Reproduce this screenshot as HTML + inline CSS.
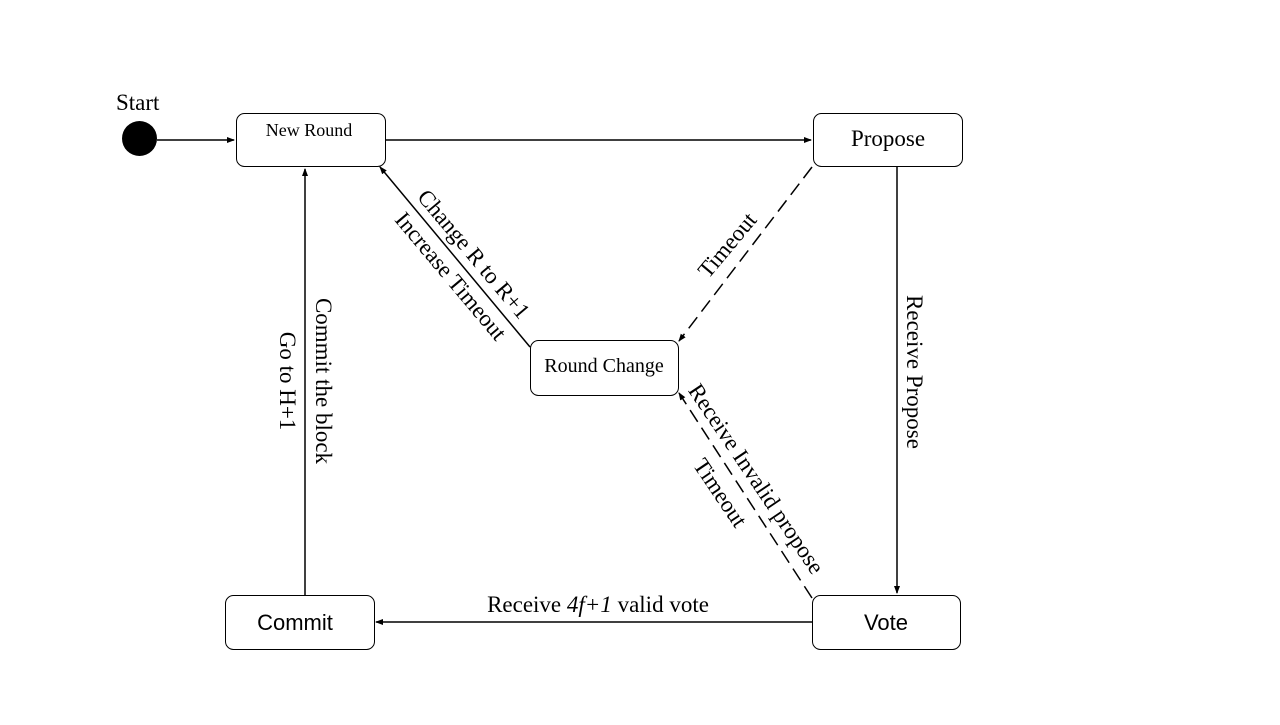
<!DOCTYPE html>
<html><head><style>
body{margin:0;background:#fff;}
svg text{font-family:"Liberation Serif",serif;fill:#000;}
</style></head><body>
<svg width="1280" height="720" viewBox="0 0 1280 720" xmlns="http://www.w3.org/2000/svg">
<defs>
<marker id="a" markerWidth="8" markerHeight="8" refX="7" refY="4" orient="auto" markerUnits="userSpaceOnUse">
<path d="M0,1 L8,4 L0,7 Z" fill="#000"/></marker>
</defs>
<g fill="#fff" stroke="#000" stroke-width="1">
<rect x="236.5" y="113.5" width="149" height="53" rx="8"/>
<rect x="813.5" y="113.5" width="149" height="53" rx="8"/>
<rect x="530.5" y="340.5" width="148" height="55" rx="8"/>
<rect x="225.5" y="595.5" width="149" height="54" rx="8"/>
<rect x="812.5" y="595.5" width="148" height="54" rx="8"/>
</g>
<circle cx="139.5" cy="138.5" r="17.5" fill="#000"/>
<g stroke="#000" stroke-width="1.5" fill="none">
<line x1="157" y1="140" x2="234" y2="140" marker-end="url(#a)"/>
<line x1="386" y1="140" x2="811" y2="140" marker-end="url(#a)"/>
<line x1="897" y1="167" x2="897" y2="593" marker-end="url(#a)"/>
<line x1="812" y1="622" x2="376" y2="622" marker-end="url(#a)"/>
<line x1="305" y1="595" x2="305" y2="169" marker-end="url(#a)"/>
<line x1="530" y1="347" x2="380" y2="167" marker-end="url(#a)"/>
<line x1="812" y1="167" x2="679" y2="341" stroke-dasharray="14,7" marker-end="url(#a)"/>
<line x1="812" y1="598" x2="679" y2="393" stroke-dasharray="14,7" marker-end="url(#a)"/>
</g>
<text x="116" y="110" font-size="23">Start</text>
<text x="309" y="136" font-size="18" text-anchor="middle">New Round</text>
<text x="888" y="146" font-size="23" text-anchor="middle">Propose</text>
<text x="604" y="372" font-size="20" text-anchor="middle">Round Change</text>
<text x="295" y="630" font-size="22" text-anchor="middle" style="font-family:'Liberation Sans',sans-serif">Commit</text>
<text x="886" y="630" font-size="22" text-anchor="middle" style="font-family:'Liberation Sans',sans-serif">Vote</text>
<text x="598" y="612" font-size="23" text-anchor="middle">Receive <tspan font-style="italic">4f+1</tspan> valid vote</text>
<text font-size="23" text-anchor="middle" transform="translate(316,381) rotate(90)">Commit  the block</text>
<text font-size="23" text-anchor="middle" transform="translate(280,381) rotate(90)">Go to H+1</text>
<text font-size="23" text-anchor="middle" transform="translate(907,372) rotate(90)">Receive Propose</text>
<text font-size="23" text-anchor="middle" transform="translate(468,259) rotate(50)">Change R to R+1</text>
<text font-size="23" text-anchor="middle" transform="translate(445,281) rotate(50)">Increase Timeout</text>
<text font-size="23" text-anchor="middle" transform="translate(733,250) rotate(-50)">Timeout</text>
<text font-size="23" text-anchor="middle" transform="translate(750,483) rotate(56)">Receive Invalid propose</text>
<text font-size="23" text-anchor="middle" transform="translate(714,497) rotate(56)">Timeout</text>
</svg>
</body></html>
